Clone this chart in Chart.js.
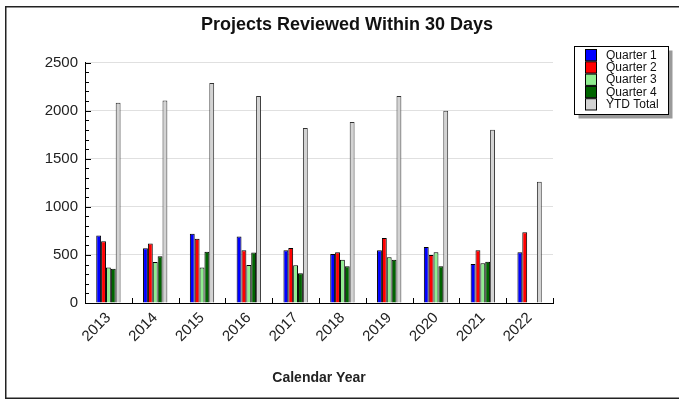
<!DOCTYPE html>
<html>
<head>
<meta charset="utf-8">
<script src="https://cdn.jsdelivr.net/npm/chart.js@4/dist/chart.umd.min.js"></script>
<style>
  html, body { margin: 0; padding: 0; background: #fff; }
  #wrap { width: 679px; height: 400px; }
</style>
</head>
<body>
<div id="wrap"><canvas id="chart" width="679" height="400"></canvas></div>
<script>
const years = ["2013", "2014", "2015", "2016", "2017", "2018", "2019", "2020", "2021", "2022"];
const quarter1 = [701, 569, 719, 691, 548, 510, 548, 583, 406, 528];
const quarter2 = [642, 618, 667, 548, 573, 528, 677, 500, 548, 736];
const quarter3 = [368, 427, 368, 396, 392, 451, 475, 528, 413, null];
const quarter4 = [357, 486, 534, 524, 309, 382, 451, 382, 430, null];
const ytdTotal = [2083, 2107, 2288, 2152, 1819, 1882, 2152, 2000, 1802, 1260];

const FONT = "'Liberation Sans', Arial, sans-serif";

function makeSet(label, data, color, border) {
    return {
        label: label,
        data: data,
        backgroundColor: color,
        borderColor: border,
        borderWidth: 1,
        borderSkipped: "bottom",
        categoryPercentage: 0.52,
        barPercentage: 1.0
    };
}

// white background + frame line
const framePlugin = {
    id: "frame",
    beforeDraw(chart) {
        const c = chart.ctx;
        c.save();
        c.fillStyle = "#fff";
        c.fillRect(0, 0, chart.width, chart.height);
        c.strokeStyle = "#222";
        c.lineWidth = 1.5;
        c.strokeRect(5.75, 6.75, chart.width + 10, 391.5);
        c.restore();
    }
};

// ticks pointing into the plot
const innerTicks = {
    id: "innerTicks",
    afterDatasetsDraw(chart) {
        const c = chart.ctx;
        const y = chart.scales.y, x = chart.scales.x;
        c.save();
        c.strokeStyle = "#000";
        c.lineWidth = 1;
        c.beginPath();
        for (let v = 0; v <= 2500; v += 100) {
            const py = Math.round(y.getPixelForValue(v)) + 0.5;
            const len = v % 500 === 0 ? 6 : 4;
            c.moveTo(x.left, py);
            c.lineTo(x.left + len, py);
        }
        const n = years.length;
        const step = (x.right - x.left) / n;
        for (let i = 1; i <= n; i++) {
            const px = Math.round(x.left + i * step) + 0.5;
            c.moveTo(px, x.top);
            c.lineTo(px, x.top - 5);
        }
        c.stroke();
        c.restore();
    }
};

// boxed legend with shadow, upper right
const boxLegend = {
    id: "boxLegend",
    afterDraw(chart) {
        const c = chart.ctx;
        const bx = 574.5, by = 46.5, bw = 94, bh = 68;
        c.save();
        c.fillStyle = "#9a9a9a";
        c.fillRect(bx + 4, by + 4, bw, bh);
        c.fillStyle = "#fff";
        c.fillRect(bx, by, bw, bh);
        c.strokeStyle = "#000";
        c.lineWidth = 1;
        c.strokeRect(bx, by, bw, bh);
        c.font = "12px " + FONT;
        c.textBaseline = "middle";
        chart.data.datasets.forEach((ds, i) => {
            const top = 49 + i * 12.3;
            c.fillStyle = ds.backgroundColor;
            c.fillRect(585.5, top + 0.5, 11, 11.3);
            c.strokeStyle = "#000";
            c.strokeRect(585.5, top + 0.5, 11, 11.3);
            c.fillStyle = "#111";
            c.fillText(ds.label, 606, top + 6.5);
        });
        c.restore();
    }
};

new Chart(document.getElementById("chart"), {
    type: "bar",
    data: {
        labels: years,
        datasets: [
            makeSet("Quarter 1", quarter1, "#0000ff", "#000"),
            makeSet("Quarter 2", quarter2, "#ff0000", "#000"),
            makeSet("Quarter 3", quarter3, "#90ee90", "#000"),
            makeSet("Quarter 4", quarter4, "#006400", "#000"),
            makeSet("YTD Total", ytdTotal, "#d3d3d3", "#333")
        ]
    },
    options: {
        responsive: false,
        animation: false,
        layout: { padding: { left: 15, right: 0, top: 0, bottom: 0 } },
        plugins: {
            legend: { display: false },
            tooltip: { enabled: false },
            title: {
                display: true,
                text: "Projects Reviewed Within 30 Days",
                color: "#111",
                font: { family: FONT, size: 18, weight: "bold" },
                padding: { top: 14, bottom: 27 }
            }
        },
        scales: {
            x: {
                grid: { display: false, drawTicks: false },
                border: { color: "#000", width: 1 },
                ticks: {
                    color: "#222",
                    font: { family: FONT, size: 15 },
                    minRotation: 45,
                    maxRotation: 45,
                    padding: 6
                },
                title: {
                    display: true,
                    text: "Calendar Year",
                    color: "#222",
                    font: { family: FONT, size: 14, weight: "bold" },
                    padding: { top: 0, bottom: 13 }
                },
                afterFit(s) { s.height = 97; }
            },
            y: {
                min: 0,
                max: 2500,
                ticks: {
                    stepSize: 500,
                    color: "#222",
                    font: { family: FONT, size: 15 },
                    padding: 7,
                    callback: (v) => String(v)
                },
                grid: {
                    drawTicks: false,
                    color: (ctx) => ctx.tick && ctx.tick.value === 0 ? "rgba(0,0,0,0)" : "#e0e0e0"
                },
                border: { color: "#000", width: 1 },
                afterFit(s) { s.width = 70; }
            },
            spacer: {
                type: "linear",
                position: "right",
                display: true,
                grid: { display: false, drawTicks: false },
                border: { display: false },
                ticks: { display: false },
                afterFit(s) { s.width = 126; }
            }
        }
    },
    plugins: [framePlugin, innerTicks, boxLegend]
});
</script>
</body>
</html>
